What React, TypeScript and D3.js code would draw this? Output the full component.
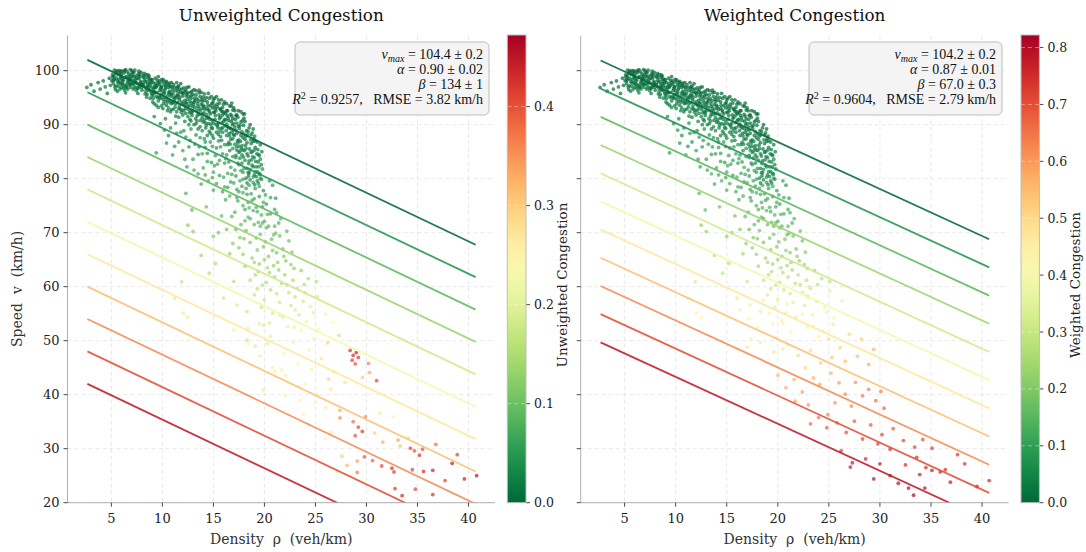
import React from "react";
import * as d3 from "d3";

const W = 1086, H = 552;
const FONT = "'DejaVu Serif', serif";
const MATH = "'Liberation Serif', 'DejaVu Serif', serif";
const NB = "\u00a0";

const xTicks = [5, 10, 15, 20, 25, 30, 35, 40];
const yTicks = [20, 30, 40, 50, 60, 70, 80, 90, 100];
const cbTicksU = [0, 0.1, 0.2, 0.3, 0.4];
const cbTicksW = [0, 0.1, 0.2, 0.3, 0.4, 0.5, 0.6, 0.7, 0.8];
const rhoDomain = [0.7, 42.6];
const speedDomain = [20, 106.5];
const lineRhoRange = [2.65, 40.7];
const fitU = { vmax: 104.4, alpha: 0.9, beta: 134 };
const fitW = { vmax: 104.2, alpha: 0.87, beta: 67 };
const levelsU = [0, 0.0448, 0.0896, 0.1343, 0.1791, 0.2239, 0.2687, 0.3134, 0.3582, 0.403, 0.4478];
const levelsW = [0, 0.0779, 0.1558, 0.2337, 0.3116, 0.3895, 0.4674, 0.5453, 0.6232, 0.7011, 0.779];
const cmaxU = 0.4717;
const cmaxW = 0.821;
const statsU = { vmax: "104.4 ± 0.2", alpha: "0.90 ± 0.02", beta: "134 ± 1", r2: "0.9257", rmse: "3.82" };
const statsW = { vmax: "104.2 ± 0.2", alpha: "0.87 ± 0.01", beta: "67.0 ± 0.3", r2: "0.9604", rmse: "2.79" };

// [density, speed, unweighted congestion, weighted congestion]
const corePoints = [
[2.6,96.9,.01,.01],[3.0,97.4,.0,.01],[3.3,96.2,.01,.02],[3.7,97.8,.0,.01],[3.9,96.6,.01,.02],[4.2,98.1,.0,.0],[4.4,97.0,.01,.01],[4.6,95.8,.01,.02],[4.8,98.6,.0,.0],[4.9,97.3,.01,.01],
[5.1,99.2,.0,.0],[5.2,97.6,.01,.01],[5.3,98.4,.0,.01],[5.4,96.5,.01,.02],[5.5,99.8,.0,.0],[5.6,98.0,.0,.01],[5.7,97.1,.01,.01],[5.8,99.5,.0,.0],[5.9,98.7,.0,.01],[6.0,96.9,.01,.02],[5.3,100.1,.0,.0],[5.6,96.2,.01,.02],[5.9,97.8,.01,.01],
[6.1,99.9,.0,.0],[6.2,98.3,.0,.01],[6.3,97.2,.01,.01],[6.4,100.2,.0,.0],[6.5,98.9,.0,.0],[6.6,96.6,.01,.02],[6.7,99.4,.0,.0],[6.8,97.7,.01,.01],[6.9,98.6,.0,.01],[7.0,100.0,.0,.0],[6.2,96.8,.01,.02],[6.5,97.5,.01,.01],[6.8,99.0,.0,.0],[6.4,95.9,.01,.02],[6.9,96.9,.01,.02],
[7.1,98.2,.0,.01],[7.2,99.6,.0,.0],[7.3,96.9,.01,.02],[7.4,97.9,.0,.01],[7.5,99.1,.0,.0],[7.6,95.8,.01,.02],[7.7,98.5,.0,.01],[7.8,97.3,.01,.01],[7.9,99.7,.0,.0],[8.0,96.4,.01,.02],[7.2,97.4,.01,.01],[7.5,98.6,.0,.01],[7.8,99.2,.0,.0],[7.3,100.1,.0,.0],[7.6,96.7,.01,.02],[7.9,98.0,.0,.01],
[8.1,98.8,.0,.0],[8.2,97.1,.01,.01],[8.3,95.7,.01,.02],[8.4,99.3,.0,.0],[8.5,98.0,.0,.01],[8.6,96.5,.01,.02],[8.7,97.6,.01,.01],[8.8,94.9,.01,.03],[8.9,98.4,.0,.0],[9.0,96.9,.01,.01],[8.2,99.5,.0,.0],[8.4,96.2,.01,.02],[8.6,98.7,.0,.0],[8.8,97.2,.01,.01],[9.0,95.4,.01,.02],[8.3,97.9,.0,.01],[8.7,99.0,.0,.0],
[9.1,97.8,.0,.01],[9.2,96.1,.01,.02],[9.3,98.6,.0,.0],[9.4,95.2,.01,.02],[9.5,97.3,.0,.01],[9.6,94.4,.01,.03],[9.7,98.1,.0,.0],[9.8,96.7,.01,.01],[9.9,95.6,.01,.02],[10.0,97.9,.0,.0],[9.2,93.9,.02,.03],[9.4,97.0,.0,.01],[9.6,98.9,.0,.0],[9.8,94.9,.01,.02],[10.0,96.3,.01,.01],[9.3,95.9,.01,.02],[9.7,97.5,.0,.01],[9.9,93.5,.02,.03],
[10.1,98.3,.0,.0],[10.2,95.1,.01,.02],[10.3,96.8,.0,.01],[10.4,93.6,.01,.03],[10.5,97.6,.0,.0],[10.6,95.9,.01,.01],[10.7,94.5,.01,.02],[10.8,97.1,.0,.0],[10.9,92.8,.02,.03],[11.0,96.4,.0,.01],[10.2,97.4,.0,.0],[10.4,98.0,.0,.0],[10.6,93.1,.02,.03],[10.8,95.3,.01,.02],[11.0,94.0,.01,.02],[10.3,94.3,.01,.02],[10.7,96.2,.0,.01],[10.5,92.6,.02,.04],[10.9,97.8,.0,.0],
[11.1,97.4,.0,.0],[11.2,94.8,.01,.02],[11.3,96.3,.0,.01],[11.4,92.4,.02,.03],[11.5,95.6,.0,.01],[11.6,97.2,.0,.0],[11.7,93.5,.01,.03],[11.8,96.0,.0,.01],[11.9,94.2,.01,.02],[12.0,91.8,.02,.03],[11.2,96.9,.0,.0],[11.4,95.0,.01,.01],[11.6,93.0,.01,.03],[11.8,97.6,.0,.0],[12.0,95.3,.0,.01],[11.3,91.6,.02,.04],[11.5,94.1,.01,.02],[11.7,96.6,.0,.0],[11.9,92.7,.02,.03],
[12.1,96.8,.0,.0],[12.2,94.5,.01,.01],[12.3,92.1,.01,.03],[12.4,95.7,.0,.01],[12.5,93.4,.01,.02],[12.6,97.0,.0,.0],[12.7,91.0,.02,.03],[12.8,94.9,.0,.01],[12.9,96.2,.0,.0],[13.0,92.6,.01,.02],[12.2,90.6,.02,.04],[12.4,93.9,.01,.02],[12.6,95.2,.0,.01],[12.8,92.4,.01,.03],[13.0,95.6,.0,.0],[12.3,96.4,.0,.0],[12.7,93.6,.01,.02],[12.5,91.5,.02,.03],[12.9,94.0,.01,.01],
[13.1,96.5,.0,.0],[13.2,93.2,.01,.02],[13.3,90.2,.02,.03],[13.4,94.8,.0,.01],[13.5,92.0,.01,.02],[13.6,95.9,.0,.0],[13.7,89.6,.02,.04],[13.8,93.7,.0,.01],[13.9,91.3,.01,.02],[14.0,95.1,.0,.0],[13.2,94.4,.0,.01],[13.4,91.6,.01,.03],[13.6,93.0,.01,.02],[13.8,96.0,.0,.0],[14.0,90.5,.02,.03],[13.3,95.5,.0,.0],[13.7,92.6,.01,.02],[13.5,89.2,.02,.04],[13.9,94.3,.0,.01],
[14.1,95.7,.0,.0],[14.2,92.8,.01,.01],[14.3,89.9,.02,.03],[14.4,94.2,.0,.0],[14.5,91.4,.01,.02],[14.6,88.8,.02,.04],[14.7,93.5,.0,.01],[14.8,95.2,.0,.0],[14.9,90.7,.01,.02],[15.0,92.3,.01,.01],[14.2,90.4,.02,.03],[14.4,93.0,.01,.01],[14.6,94.9,.0,.0],[14.8,89.5,.02,.03],[15.0,94.6,.0,.0],[14.3,91.9,.01,.02],[14.7,88.4,.02,.04],[14.5,95.8,.0,.0],[14.9,93.1,.0,.01],
[15.1,94.9,.0,.0],[15.2,91.7,.01,.02],[15.3,88.6,.02,.03],[15.4,93.3,.0,.01],[15.5,90.3,.01,.02],[15.6,94.0,.0,.0],[15.7,87.8,.02,.04],[15.8,92.5,.0,.01],[15.9,89.4,.01,.03],[16.0,93.8,.0,.0],[15.2,93.0,.0,.01],[15.4,89.8,.01,.03],[15.6,91.1,.01,.02],[15.8,94.6,.0,.0],[16.0,90.6,.01,.02],[15.3,95.2,.0,.0],[15.7,92.9,.0,.01],[15.5,88.2,.02,.04],[15.9,91.8,.01,.01],
[16.1,94.2,.0,.0],[16.2,90.9,.01,.02],[16.3,88.0,.02,.03],[16.4,92.6,.0,.01],[16.5,86.7,.02,.04],[16.6,93.5,.0,.0],[16.7,89.3,.01,.02],[16.8,91.6,.0,.01],[16.9,87.4,.02,.03],[17.0,93.1,.0,.0],[16.2,92.2,.0,.01],[16.4,89.6,.01,.02],[16.6,87.9,.02,.03],[16.8,94.0,.0,.0],[17.0,90.2,.01,.02],[16.3,93.9,.0,.0],[16.7,91.9,.0,.01],[16.5,90.8,.01,.02],[16.9,92.7,.0,.0],
[17.1,92.6,.0,.0],[17.2,89.0,.01,.02],[17.3,85.3,.02,.04],[17.4,91.4,.0,.01],[17.5,87.2,.02,.03],[17.6,83.8,.02,.04],[17.7,90.5,.0,.01],[17.8,86.1,.02,.03],[17.9,92.0,.0,.0],[18.0,88.3,.01,.02],[17.2,91.7,.0,.01],[17.4,86.6,.02,.03],[17.6,89.9,.01,.02],[17.8,84.4,.02,.04],[18.0,91.2,.0,.01],[17.3,88.4,.01,.02],[17.7,92.4,.0,.0],[17.5,84.9,.02,.04],[17.9,87.6,.01,.02],
[18.1,90.6,.0,.01],[18.2,85.6,.02,.03],[18.3,81.9,.02,.04],[18.4,88.7,.01,.02],[18.5,83.3,.02,.04],[18.6,79.8,.03,.05],[18.7,86.5,.01,.03],[18.8,82.5,.02,.04],[18.9,89.2,.01,.01],[19.0,80.7,.02,.05],[18.2,87.9,.01,.02],[18.4,84.2,.02,.04],[18.6,90.0,.0,.01],[18.8,85.0,.02,.03],[19.0,83.9,.02,.04],[18.3,79.2,.03,.05],[18.7,88.1,.01,.02],[18.5,81.1,.02,.04],[18.9,86.9,.01,.02],
[19.1,85.8,.01,.03],[19.2,82.2,.02,.04],[19.3,79.6,.03,.05],[19.4,84.5,.02,.03],[19.5,81.0,.02,.04],[19.6,86.3,.01,.02],[19.2,80.4,.02,.05],[19.4,83.1,.02,.04],[19.7,79.9,.03,.05]
];

const coreExtra = [
[5.05,98.1,.0,.01],[5.25,99.0,.0,.0],[5.45,97.2,.01,.02],[5.65,99.3,.0,.0],[5.85,96.6,.01,.03],[6.05,98.5,.0,.01],[6.25,99.6,.0,.0],[6.45,97.0,.01,.02],[6.65,98.2,.0,.01],[6.85,100.2,.0,.0],[7.05,97.6,.01,.02],[7.25,98.9,.0,.0],[7.45,96.3,.02,.03],[7.65,99.4,.0,.0],[7.85,97.8,.01,.01],[5.5,98.6,.0,.01],[6.0,99.3,.0,.0],[6.6,97.9,.01,.01],[7.1,99.0,.0,.0],[7.7,97.0,.01,.02],[6.3,96.4,.02,.03],[5.8,100.0,.0,.0],
[8.05,97.5,.0,.01],[8.25,98.2,.0,.0],[8.45,95.1,.02,.03],[8.65,97.0,.01,.01],[8.85,98.0,.0,.0],[9.05,94.2,.02,.03],[9.25,97.2,.01,.01],[9.45,96.0,.01,.02],[9.65,97.8,.0,.0],[9.85,95.0,.02,.02],[10.05,93.0,.02,.04],[10.25,96.5,.01,.01],[10.45,94.8,.01,.02],[10.65,97.3,.0,.0],[10.85,93.9,.02,.03],[11.05,95.8,.01,.01],[11.25,93.3,.02,.03],[11.45,96.8,.0,.0],[11.65,94.6,.01,.02],[11.85,92.3,.02,.04],[8.5,96.9,.01,.01],[9.1,95.7,.01,.02],[9.6,93.2,.02,.04],[10.1,94.6,.01,.02],[10.6,96.9,.0,.0],[11.1,92.9,.02,.04],[11.6,95.4,.01,.01],[12.0,93.9,.01,.02],[9.9,97.1,.0,.0],[10.9,95.6,.01,.01],[11.4,97.8,.0,.0],[8.9,96.1,.01,.02],
[12.05,95.8,.0,.01],[12.25,93.0,.01,.02],[12.45,94.7,.01,.01],[12.65,92.2,.02,.03],[12.85,95.4,.0,.0],[13.05,93.7,.01,.02],[13.25,91.1,.02,.04],[13.45,93.9,.01,.01],[13.65,91.9,.02,.03],[13.85,94.7,.0,.0],[14.05,92.2,.01,.02],[14.25,89.4,.02,.04],[14.45,93.6,.01,.01],[14.65,91.0,.02,.03],[14.85,93.9,.0,.0],[15.05,90.2,.02,.03],[15.25,92.6,.01,.01],[15.45,89.4,.02,.04],[15.65,92.9,.0,.01],[15.85,90.4,.02,.03],[12.4,96.9,.0,.0],[13.1,90.0,.02,.04],[13.6,96.4,.0,.0],[14.1,90.9,.02,.03],[14.6,92.4,.01,.02],[15.1,93.5,.0,.01],[15.6,88.8,.03,.05],[15.9,93.2,.0,.0],[12.9,91.7,.02,.03],[13.9,88.9,.03,.05],[14.9,88.0,.03,.05],[12.6,90.0,.02,.04],
[16.05,92.1,.01,.01],[16.25,88.9,.02,.03],[16.45,91.3,.01,.02],[16.65,86.4,.03,.05],[16.85,90.0,.01,.02],[17.05,88.0,.02,.03],[17.25,85.9,.03,.04],[17.45,89.7,.01,.02],[17.65,86.9,.02,.04],[17.85,90.8,.01,.01],[18.05,85.2,.03,.05],[18.25,88.9,.01,.02],[18.45,82.8,.03,.05],[18.65,87.2,.02,.03],[18.85,84.1,.03,.04],[19.05,87.9,.02,.02],[19.25,84.6,.03,.04],[19.45,82.2,.03,.05],[16.3,90.1,.01,.02],[16.8,88.6,.02,.03],[17.3,90.3,.01,.01],[17.8,88.7,.02,.02],[18.3,86.7,.02,.03],[18.8,88.5,.02,.02],[19.3,86.8,.02,.03],[17.1,86.4,.03,.04],[17.6,85.1,.03,.05],[18.1,83.4,.03,.05],[18.6,81.7,.04,.06],[19.1,81.3,.04,.06],[19.6,83.6,.03,.05],[16.6,85.2,.03,.05],[17.4,82.9,.04,.06],[18.9,80.3,.04,.07],[19.8,81.8,.04,.06],
[9.2,91.5,.03,.06],[9.8,90.2,.04,.07],[10.3,91.1,.03,.06],[10.8,89.4,.04,.08],[11.3,90.3,.04,.07],[11.8,88.6,.05,.09],[12.3,87.7,.05,.09],[12.8,89.2,.04,.07],[13.2,86.4,.05,.1],[13.7,87.6,.05,.09],[14.2,85.8,.05,.1],[14.7,86.8,.05,.09],[15.2,84.3,.06,.11],[15.7,85.9,.05,.09],[16.2,83.7,.06,.11],[16.7,82.1,.06,.12],[17.2,83.9,.05,.09],[17.7,81.5,.06,.11],[11.0,84.4,.06,.11],[12.0,85.2,.06,.1],[13.0,83.6,.06,.11],[14.0,82.0,.07,.13],[15.0,81.2,.07,.13],[16.0,80.3,.07,.13],[13.5,80.9,.07,.14],[14.5,79.6,.08,.14],[10.6,88.0,.04,.08],[11.6,86.8,.05,.09],[12.6,85.9,.05,.1],[13.9,84.6,.06,.1],[15.4,82.7,.06,.11],[16.4,81.0,.07,.12],[17.0,79.2,.07,.13],[17.9,77.4,.07,.13],[18.4,75.6,.08,.14],[18.9,74.1,.08,.15],[19.4,71.9,.09,.16],[19.7,73.3,.08,.15],[20.4,71.2,.09,.16],[20.9,69.6,.1,.18]
];

const coreFill = [
[5.15,98.8,.0,.0],[5.35,97.0,.01,.01],[5.55,100.0,.0,.0],[5.75,98.3,.0,.01],[5.95,99.0,.0,.0],[6.15,97.5,.01,.01],[6.35,98.8,.0,.0],[6.55,99.8,.0,.0],[6.75,97.3,.01,.01],[6.95,99.3,.0,.0],[7.15,96.6,.01,.02],[7.35,98.4,.0,.0],[7.55,97.6,.0,.01],[7.75,98.9,.0,.0],[7.95,96.9,.01,.01],[8.15,99.1,.0,.0],[8.35,96.8,.01,.01],[8.55,97.4,.0,.01],[8.75,98.4,.0,.0],[8.95,95.8,.01,.02],
[9.15,96.6,.0,.01],[9.35,97.6,.0,.0],[9.55,95.0,.01,.02],[9.75,96.3,.0,.01],[9.95,98.4,.0,.0],[10.15,95.7,.01,.01],[10.35,97.2,.0,.0],[10.55,94.2,.01,.02],[10.75,95.8,.0,.01],[10.95,96.9,.0,.0],[11.15,94.3,.01,.02],[11.35,95.3,.0,.01],[11.55,96.2,.0,.0],[11.75,92.9,.01,.02],[11.95,95.9,.0,.0],[12.15,93.6,.01,.01],[12.35,95.3,.0,.0],[12.55,92.8,.01,.02],[12.75,96.0,.0,.0],[12.95,93.3,.01,.01],
[13.15,94.9,.0,.0],[13.35,92.6,.01,.01],[13.55,94.4,.0,.0],[13.75,90.8,.01,.02],[13.95,93.0,.0,.01],[14.15,94.5,.0,.0],[14.35,91.2,.01,.02],[14.55,92.7,.0,.01],[14.75,90.1,.01,.02],[14.95,94.1,.0,.0],[15.15,91.0,.01,.02],[15.35,93.8,.0,.0],[15.55,91.8,.0,.01],[15.75,89.3,.01,.02],[15.95,92.4,.0,.01],[16.15,89.8,.01,.02],[16.35,91.7,.0,.01],[16.55,88.4,.01,.02],[16.75,90.6,.0,.01],[16.95,89.0,.01,.02],
[17.15,91.0,.0,.01],[17.35,87.0,.01,.02],[17.55,89.3,.01,.01],[17.75,85.6,.01,.02],[17.95,89.9,.0,.01],[18.15,86.2,.01,.02],[18.35,88.1,.01,.01],[18.55,85.5,.01,.02],[18.75,83.5,.02,.03],[18.95,87.4,.01,.01],[19.15,83.2,.02,.03],[19.35,85.4,.01,.02],[19.55,80.8,.02,.04],[17.45,92.6,.0,.0],[18.05,92.0,.0,.0],[16.75,93.4,.0,.0],[17.95,84.0,.02,.03],[18.45,80.5,.02,.04],[19.05,78.9,.03,.05],[19.75,85.0,.02,.03],
[12.1,88.9,.04,.07],[12.7,87.1,.05,.09],[13.3,88.1,.04,.08],[13.6,85.9,.05,.1],[14.1,87.4,.04,.08],[14.4,84.7,.05,.1],[14.9,86.0,.05,.09],[15.1,82.4,.06,.12],[15.5,87.0,.04,.07],[15.9,84.6,.05,.1],[16.1,86.3,.04,.08],[16.5,83.1,.05,.1],[16.9,85.6,.04,.08],[17.1,81.6,.06,.11],[17.5,82.6,.05,.1],[17.9,79.9,.06,.12],[18.2,78.2,.06,.12],[18.7,77.2,.06,.12],[19.0,76.3,.07,.13],[19.5,78.6,.06,.11],
[20.1,77.0,.06,.12],[20.5,79.6,.05,.1],[19.9,75.6,.07,.13],[18.5,74.6,.08,.14],[17.3,78.0,.07,.12],[16.1,78.5,.07,.13],[15.3,79.1,.07,.13],[14.2,80.7,.07,.13],[13.1,81.6,.07,.12],[12.2,83.6,.06,.11],[11.4,88.4,.04,.08],[10.2,89.0,.04,.08],[16.6,76.8,.08,.14],[17.9,75.0,.08,.14],[19.2,74.7,.08,.14],[20.3,73.4,.08,.14],[21.0,74.3,.07,.13],[20.6,76.5,.06,.12],[18.1,72.2,.09,.16],[19.6,71.2,.09,.17]
];

const coreFill2 = [
[5.2,98.2,.0,.0],[5.4,99.5,.0,.0],[5.7,97.7,.0,.01],[5.9,99.9,.0,.0],[6.1,98.0,.0,.01],[6.3,100.0,.0,.0],[6.5,96.9,.01,.01],[6.7,98.6,.0,.0],[6.9,97.5,.0,.01],[7.1,99.7,.0,.0],[7.3,97.9,.0,.01],[7.5,96.8,.01,.01],[7.7,99.9,.0,.0],[7.9,97.4,.0,.01],[6.0,97.5,.0,.01],[6.8,98.3,.0,.0],
[8.1,97.4,.0,.01],[8.3,98.7,.0,.0],[8.5,95.6,.01,.02],[8.7,96.4,.01,.01],[8.9,97.7,.0,.0],[9.1,94.9,.01,.02],[9.3,96.9,.0,.01],[9.5,98.2,.0,.0],[9.7,95.3,.01,.02],[9.9,96.9,.0,.01],[10.1,93.9,.01,.02],[10.3,97.9,.0,.0],[10.5,95.4,.01,.01],[10.7,97.7,.0,.0],[10.9,94.2,.01,.02],[8.6,99.2,.0,.0],[9.4,93.6,.02,.03],[10.2,96.0,.0,.01],[10.8,92.4,.02,.03],[9.0,98.3,.0,.0],
[11.1,95.1,.0,.01],[11.3,93.9,.01,.02],[11.5,97.0,.0,.0],[11.7,95.0,.0,.01],[11.9,96.6,.0,.0],[12.1,92.6,.01,.02],[12.3,94.1,.0,.01],[12.5,95.9,.0,.0],[12.7,94.3,.0,.01],[12.9,92.2,.01,.02],[13.1,94.2,.0,.01],[13.3,96.3,.0,.0],[13.5,93.4,.01,.01],[13.7,95.2,.0,.0],[13.9,92.0,.01,.02],[11.6,91.4,.02,.03],[12.2,96.1,.0,.0],[12.8,90.7,.02,.03],[13.4,90.7,.02,.03],[14.0,93.6,.0,.01],
[14.1,93.3,.0,.01],[14.3,95.0,.0,.0],[14.5,90.2,.01,.02],[14.7,92.0,.01,.01],[14.9,89.3,.01,.03],[15.1,92.3,.0,.01],[15.3,90.0,.01,.02],[15.5,94.6,.0,.0],[15.7,91.4,.01,.01],[15.9,88.6,.02,.03],[16.1,91.0,.01,.01],[16.3,92.6,.0,.0],[16.5,89.4,.01,.02],[16.7,87.3,.02,.03],[16.9,91.1,.0,.01],[14.4,88.0,.02,.04],[15.0,87.5,.02,.04],[15.8,87.1,.02,.04],[16.4,86.3,.02,.04],[17.0,88.2,.01,.02],
[17.1,89.6,.01,.01],[17.3,91.8,.0,.0],[17.5,86.0,.02,.03],[17.7,88.0,.01,.02],[17.9,85.3,.02,.03],[18.1,87.3,.01,.02],[18.3,84.6,.02,.03],[18.5,89.4,.0,.01],[18.7,84.9,.02,.03],[18.9,82.2,.02,.04],[19.1,87.0,.01,.02],[19.3,81.3,.03,.04],[19.5,84.3,.02,.03],[19.7,82.6,.02,.04],[17.2,84.3,.02,.04],[17.8,82.9,.03,.04],[18.4,81.1,.03,.05],[19.0,85.3,.02,.03],[19.4,79.2,.03,.05],[18.2,80.1,.03,.05]
];

const midPoints = [
[9.4,84.8,.05,.09],[10.4,86.6,.05,.08],[11.2,86.0,.05,.09],[12.4,82.2,.06,.11],[12.3,77.3,.08,.15],[12.9,74.2,.09,.17],[13.5,84.5,.05,.1],[14.2,86.8,.04,.08],[14.8,83.0,.05,.1],[15.3,85.7,.04,.07],[15.6,80.6,.06,.11],[16.1,82.9,.05,.09],[16.4,78.4,.06,.12],[16.9,84.1,.04,.08],[17.2,80.5,.05,.1],[17.5,77.6,.06,.12],[17.9,81.2,.05,.09],
[16.2,76.1,.07,.13],[16.7,79.4,.06,.11],[17.1,73.8,.08,.15],[17.4,75.9,.07,.13],[17.8,78.6,.06,.11],[18.1,74.3,.07,.14],[18.3,77.1,.06,.12],[18.6,72.6,.08,.15],[18.8,76.0,.07,.12],[19.1,78.2,.05,.1],[19.3,73.9,.07,.13],[19.5,76.7,.06,.11],[19.8,74.8,.06,.12],[20.0,72.1,.08,.14],[19.9,77.8,.05,.1],[18.9,79.3,.05,.1],[19.6,80.1,.05,.09],[20.2,75.3,.06,.11],[20.6,73.5,.07,.13],[21.1,76.4,.05,.1],[21.4,71.8,.08,.14],[20.8,78.8,.05,.09],[17.7,71.5,.09,.16],[16.8,73.0,.09,.16],
[18.2,70.4,.1,.18],[18.6,68.2,.11,.2],[19.0,71.5,.09,.17],[19.3,66.8,.12,.22],[19.6,69.7,.1,.19],[19.9,67.4,.11,.21],[20.2,70.9,.09,.17],[20.4,65.6,.12,.23],[20.7,68.8,.1,.19],[21.0,71.2,.09,.16],[21.2,66.3,.11,.21],[21.5,69.4,.1,.18],[21.8,67.0,.11,.2],[22.1,64.8,.12,.22],[20.9,63.9,.13,.25],[21.6,72.6,.08,.15],[17.6,69.1,.11,.2],[17.9,66.0,.13,.24],[22.4,68.5,.1,.18],[19.0,64.5,.14,.26],
[19.4,62.8,.14,.27],[19.8,60.3,.16,.3],[20.3,63.5,.14,.26],[20.6,59.4,.16,.31],[21.0,61.8,.15,.28],[21.3,64.5,.13,.24],[21.7,60.6,.15,.29],[22.0,62.2,.14,.27],[22.4,58.9,.17,.32],[22.8,61.2,.15,.28],[23.2,59.7,.16,.3],[23.6,63.0,.13,.25],[20.0,57.6,.18,.34],[21.5,57.1,.18,.35],[22.6,64.1,.13,.24],[23.9,60.4,.15,.28],[18.6,61.2,.16,.3],[19.0,58.5,.17,.33],
[11.9,60.9,.17,.33],[11.2,57.9,.19,.36],[12.05,55.1,.2,.39],[12.5,54.3,.21,.4],[12.5,71.4,.12,.22],[13.0,70.2,.12,.23],[15.0,69.3,.12,.22],[15.5,70.0,.11,.21],[13.8,65.8,.14,.27],[14.6,62.5,.16,.3],[16.0,57.9,.18,.34],[15.2,64.3,.15,.28],[16.6,66.1,.13,.25],[17.0,61.0,.16,.31],[17.3,56.6,.19,.37],[14.3,74.8,.1,.18],[15.8,73.1,.1,.19],[16.3,70.6,.11,.21]
];

const midFill = [
[14.4,83.2,.06,.11],[14.9,80.2,.07,.12],[15.6,83.4,.06,.1],[15.9,77.6,.07,.13],[16.3,84.4,.05,.09],[16.8,80.8,.06,.11],[17.3,76.5,.07,.13],[17.6,79.6,.06,.11],[18.0,81.9,.05,.09],[18.5,78.8,.06,.11],[13.8,79.0,.07,.13],[15.0,77.9,.07,.13],
[17.2,70.6,.1,.18],[17.5,67.2,.12,.22],[18.0,68.9,.11,.2],[18.4,72.9,.09,.16],[18.8,65.3,.13,.24],[19.2,69.0,.11,.19],[19.5,64.2,.13,.25],[19.8,71.8,.09,.16],[20.1,68.3,.11,.2],[20.5,62.6,.14,.27],[20.8,66.7,.12,.22],[21.1,69.9,.1,.18],[21.4,63.1,.13,.25],[21.9,65.6,.12,.23],[22.2,70.3,.09,.17],[22.7,66.4,.12,.21],[16.9,68.0,.12,.22],[18.1,63.8,.14,.26],[20.0,65.0,.13,.24],[21.2,73.7,.08,.14],[19.1,62.2,.15,.28],[22.9,63.4,.13,.25],
[19.3,59.6,.16,.31],[19.7,56.2,.18,.35],[20.2,60.8,.15,.29],[20.8,55.1,.19,.37],[21.2,58.7,.17,.32],[21.8,54.4,.19,.37],[22.2,60.4,.15,.29],[22.6,56.5,.18,.34],[23.0,58.1,.17,.32],[23.4,54.8,.19,.36],[23.8,57.3,.18,.34],[24.3,61.5,.15,.28],[24.8,55.2,.2,.37],[25.1,61.0,.16,.29],[20.5,53.3,.2,.39],[22.9,52.5,.21,.41],[18.3,55.4,.18,.36],[19.5,53.1,.2,.39]
];

// [density, speed, unweighted congestion]
const tailUnweighted = [
[17.0,52.0,.22],[18.4,52.3,.21],[18.4,49.5,.24],[18.3,50.1,.18],[19.1,49.0,.19],[20.3,49.5,.2],[21.0,44.2,.22],[21.7,44.6,.21],[19.9,40.9,.2],[22.0,39.8,.23],[23.4,41.5,.22],[24.6,44.7,.25],[25.0,38.6,.24],[26.3,42.9,.3],[23.8,36.4,.23],
[24.5,56.3,.2],[25.2,58.1,.19],[26.0,54.9,.22],[24.0,58.9,.18],[26.7,53.4,.24],
[21.5,54.8,.2],[22.3,52.6,.21],[23.0,55.7,.19],[23.6,51.9,.22],[24.1,53.5,.21],[24.8,50.4,.23],[22.8,49.7,.22],[21.9,47.6,.23],[20.6,50.8,.2],[19.9,52.9,.19],[25.3,52.1,.24],[24.4,48.3,.25],[23.3,45.8,.24],[20.8,45.0,.22],[19.6,47.2,.21],[22.1,43.6,.25],[25.6,46.7,.27],[26.2,49.6,.3],[26.8,44.3,.28],[27.3,51.0,.3],
[28.4,48.2,.42],[28.7,47.3,.43],[29.0,47.8,.44],[28.6,46.4,.41],[29.2,46.9,.42],[28.9,45.7,.4],
[30.2,45.8,.36],[30.3,44.1,.33],[31.0,42.6,.41],[29.6,43.2,.3],[27.9,42.3,.28],[26.5,41.0,.27],[25.2,40.1,.25],[24.0,42.0,.22],[23.5,39.0,.23],[26.0,37.6,.26],[27.4,37.1,.33],[27.4,35.7,.35],[28.7,35.0,.38],[29.2,34.0,.41],[29.6,33.2,.42],[28.9,32.4,.4],[29.9,35.9,.36],[31.3,36.6,.27],[32.6,35.9,.25],[30.8,32.9,.3],[31.6,31.2,.33],[33.3,30.5,.31],[34.1,32.0,.29],[33.1,31.6,.34],
[27.6,28.6,.3],[28.1,26.9,.32],[27.1,25.8,.28],[29.1,27.7,.34],[29.1,25.6,.37],[29.8,28.5,.4],[30.6,27.8,.39],[31.5,26.8,.41],[32.5,26.4,.43],[32.7,25.7,.42],[34.3,30.1,.41],[34.7,29.6,.4],[35.2,28.8,.42],[35.5,29.9,.4],[34.5,26.1,.41],[35.6,25.8,.43],[36.5,26.0,.44],[32.8,22.6,.42],[33.5,21.3,.44],[34.8,22.5,.41],[36.5,21.5,.43],[38.4,27.3,.45],[37.7,24.1,.41],[39.6,24.4,.44],[40.8,25.0,.45],[36.8,30.8,.38],[38.9,28.9,.41],[25.9,31.9,.24],[24.4,34.4,.22],[26.5,33.0,.27]
];

// [density, speed, weighted congestion]
const tailWeighted = [
[16.3,55.7,.38],[17.2,54.0,.4],[18.0,52.4,.41],[19.2,55.1,.39],[20.4,53.8,.41],[21.3,51.7,.43],[22.4,54.9,.4],[23.5,52.6,.42],[24.0,50.8,.44],[19.8,50.6,.43],[21.0,49.2,.45],[17.4,50.3,.44],[18.6,57.5,.36],[20.9,56.8,.37],[22.8,58.3,.35],[24.6,56.1,.38],[25.5,54.2,.4],[26.3,57.4,.37],[23.1,60.0,.34],[25.1,59.2,.35],
[17.0,48.8,.47],[18.3,49.6,.46],[19.6,47.9,.48],[20.5,48.5,.47],[22.0,47.3,.5],[23.2,48.2,.49],[24.4,51.7,.47],[25.0,50.3,.49],[25.4,53.0,.46],[26.1,48.7,.52],[27.0,51.2,.5],[28.2,50.3,.53],[26.6,46.2,.55],[27.8,47.1,.55],[28.9,45.6,.58],[29.4,48.4,.56],[24.2,45.9,.52],[25.3,46.9,.53],[22.7,45.0,.51],
[20.0,43.6,.55],[20.8,41.3,.57],[21.6,42.8,.56],[22.4,40.5,.59],[23.5,43.1,.57],[24.1,41.9,.58],[25.2,44.0,.57],[26.0,42.2,.6],[26.6,40.1,.62],[27.6,42.3,.61],[28.3,39.8,.64],[28.9,41.0,.63],[29.6,38.9,.66],[30.1,40.6,.64],[30.4,37.5,.67],[27.2,37.9,.63],[25.6,38.5,.61],[23.0,38.1,.6],[24.9,36.3,.63],[21.7,38.8,.58],
[23.2,34.6,.66],[24.0,35.8,.65],[24.8,33.9,.68],[25.8,34.8,.67],[26.7,33.0,.7],[27.5,35.1,.68],[28.3,31.8,.71],[29.1,34.4,.69],[30.2,32.6,.71],[31.3,33.7,.69],[29.8,30.9,.72],[31.0,29.9,.73],[32.3,31.5,.71],[33.4,30.3,.72],[34.2,31.7,.7],[35.1,30.1,.72],[33.6,28.4,.74],[32.5,27.0,.75],[34.5,26.5,.75],
[27.1,26.6,.78],[27.3,27.4,.77],[26.2,29.6,.74],[28.6,28.1,.76],[30.0,27.2,.77],[31.0,25.0,.79],[32.8,22.7,.8],[33.3,21.4,.81],[34.4,22.7,.79],[35.9,25.7,.76],[36.4,26.1,.75],[38.3,27.2,.74],[39.5,23.0,.78],[40.7,24.1,.76],[35.1,26.0,.77],[33.9,25.2,.78],[36.9,23.8,.78],[37.6,28.9,.73],[29.4,24.4,.8],[31.8,23.6,.8]
];

const Y_TOP = 35.6, Y_BOT = 502.7;

const shared = [...corePoints, ...coreExtra, ...coreFill, ...coreFill2, ...midPoints, ...midFill];

const panels = [
  {
    id: "u", title: "Unweighted Congestion", cbLabel: "Unweighted Congestion",
    x0: 67.5, x1: 495, cbx0: 507.3, cbx1: 526, cmax: cmaxU, cbTicks: cbTicksU,
    fit: fitU, levels: levelsU, stats: statsU, showYLabels: true, box: [295, 489],
    points: [...shared.map(p => [p[0], p[1], p[2]]), ...tailUnweighted],
  },
  {
    id: "w", title: "Weighted Congestion", cbLabel: "Weighted Congestion",
    x0: 580.7, x1: 1008.6, cbx0: 1021, cbx1: 1039.4, cmax: cmaxW, cbTicks: cbTicksW,
    fit: fitW, levels: levelsW, stats: statsW, showYLabels: false, box: [809, 1002],
    points: [...shared.map(p => [p[0], p[1], p[3]]), ...tailWeighted],
  },
];

function Panel({ p }: any) {
  const x = d3.scaleLinear().domain(rhoDomain).range([p.x0, p.x1]);
  const y = d3.scaleLinear().domain(speedDomain).range([Y_BOT, Y_TOP]);
  const cb = d3.scaleLinear().domain([0, p.cmax]).range([Y_BOT, Y_TOP]);
  const col = (c: number) => d3.interpolateRdYlGn(1 - Math.max(0, Math.min(1, c / p.cmax)));
  const line = d3.line<number[]>().x(d => x(d[0])).y(d => y(d[1]));
  const clipId = "clip-" + p.id;
  const gradId = "grad-" + p.id;
  const stops = d3.range(0, 1.0001, 0.05);
  const cx = (p.x0 + p.x1) / 2;
  const grid = "#e2e2e2";
  const axisCol = "#b0b0b0";
  const txt = "#222";
  const bx0 = p.box[0], bx1 = p.box[1];
  const tx = bx1 - 6;
  const fs = 14;
  return (
    <g>
      <defs>
        <clipPath id={clipId}>
          <rect x={p.x0} y={Y_TOP} width={p.x1 - p.x0} height={Y_BOT - Y_TOP} />
        </clipPath>
        <linearGradient id={gradId} x1="0" y1="1" x2="0" y2="0">
          {stops.map(s => <stop key={s} offset={s} stopColor={col(s * p.cmax)} />)}
        </linearGradient>
      </defs>
      {xTicks.map(t => <line key={"gx" + t} x1={x(t)} x2={x(t)} y1={Y_TOP} y2={Y_BOT} stroke={grid} strokeWidth={0.8} strokeDasharray="4,3" />)}
      {yTicks.map(t => <line key={"gy" + t} x1={p.x0} x2={p.x1} y1={y(t)} y2={y(t)} stroke={grid} strokeWidth={0.8} strokeDasharray="4,3" />)}
      <g clipPath={`url(#${clipId})`}>
        {p.points.map((d: number[], i: number) => (
          <circle key={i} cx={x(d[0])} cy={y(d[1])} r={1.9} fill={col(d[2])} fillOpacity={0.7} />
        ))}
        {p.levels.map((c: number, i: number) => {
          const pts = lineRhoRange.map(r => [r, p.fit.vmax - p.fit.alpha * r - p.fit.beta * c]);
          return <path key={"l" + i} d={line(pts) as string} stroke={col(c)} strokeWidth={1.8} fill="none" strokeOpacity={0.88} />;
        })}
      </g>
      <line x1={p.x0} x2={p.x0} y1={Y_TOP} y2={Y_BOT} stroke={axisCol} strokeWidth={1} />
      <line x1={p.x0} x2={p.x1} y1={Y_BOT} y2={Y_BOT} stroke={axisCol} strokeWidth={1} />
      {xTicks.map(t => (
        <g key={"xt" + t}>
          <line x1={x(t)} x2={x(t)} y1={Y_BOT} y2={Y_BOT + 4} stroke="#333" strokeWidth={0.9} />
          <text x={x(t)} y={Y_BOT + 20} textAnchor="middle" fontSize={13} fill={txt} fontFamily={FONT}>{t}</text>
        </g>
      ))}
      {yTicks.map(t => (
        <g key={"yt" + t}>
          <line x1={p.x0 - 4} x2={p.x0} y1={y(t)} y2={y(t)} stroke="#333" strokeWidth={0.9} />
          {p.showYLabels && <text x={p.x0 - 8} y={y(t) + 4.5} textAnchor="end" fontSize={13} fill={txt} fontFamily={FONT}>{t}</text>}
        </g>
      ))}
      <text x={cx} y={544} textAnchor="middle" fontSize={14} fill="#333" fontFamily={FONT}>{`Density${NB}${NB}ρ${NB}${NB}(veh/km)`}</text>
      {p.showYLabels && (
        <text transform={`translate(22,289) rotate(-90)`} textAnchor="middle" fontSize={14} fill="#333" fontFamily={FONT}>{`Speed${NB}${NB}v${NB}${NB}(km/h)`}</text>
      )}
      <text x={cx} y={21} textAnchor="middle" fontSize={16.8} fill="#111" fontFamily={FONT}>{p.title}</text>
      <rect x={bx0} y={42} width={bx1 - bx0} height={73} rx={5} fill="#f3f3f3" fillOpacity={0.9} stroke="#bdbdbd" strokeWidth={1} />
      <g fontFamily={MATH} fontSize={fs} fill="#111" textAnchor="end">
        <text x={tx} y={59}>
          <tspan fontStyle="italic">v</tspan><tspan fontStyle="italic" fontSize={10} dy={3}>max</tspan><tspan dy={-3}>{` = ${p.stats.vmax}`}</tspan>
        </text>
        <text x={tx} y={74}><tspan fontStyle="italic">α</tspan>{` = ${p.stats.alpha}`}</text>
        <text x={tx} y={89}><tspan fontStyle="italic">β</tspan>{` = ${p.stats.beta}`}</text>
        <text x={tx} y={104}>
          <tspan fontStyle="italic">R</tspan><tspan fontSize={10} dy={-5}>2</tspan><tspan dy={5}>{` = ${p.stats.r2},${NB}${NB}${NB}RMSE = ${p.stats.rmse} km/h`}</tspan>
        </text>
      </g>
      <rect x={p.cbx0} y={Y_TOP - 0.6} width={p.cbx1 - p.cbx0} height={Y_BOT - Y_TOP + 0.6} fill={`url(#${gradId})`} />
      {p.cbTicks.map((t: number) => (
        <g key={"cb" + t}>
          {t > 0 && <line x1={p.cbx0} x2={p.cbx1} y1={cb(t)} y2={cb(t)} stroke="#ffffff" strokeOpacity={0.5} strokeWidth={0.8} strokeDasharray="4,3" />}
          <line x1={p.cbx1} x2={p.cbx1 + 4} y1={cb(t)} y2={cb(t)} stroke="#333" strokeWidth={0.9} />
          <text x={p.cbx1 + 8} y={cb(t) + 4.5} fontSize={12.5} fill={txt} fontFamily={FONT}>{t.toFixed(1)}</text>
        </g>
      ))}
      <rect x={p.cbx0} y={Y_TOP - 0.6} width={p.cbx1 - p.cbx0} height={Y_BOT - Y_TOP + 0.6} fill="none" stroke="#bdbdbd" strokeWidth={1} />
      <text transform={`translate(${p.cbx1 + 41},285) rotate(-90)`} textAnchor="middle" fontSize={13.5} fill="#222" fontFamily={FONT}>{p.cbLabel}</text>
    </g>
  );
}

export default function App() {
  return (
    <svg width={W} height={H} style={{ position: "absolute", left: 0, top: 0, background: "#fff" }}>
      <rect width={W} height={H} fill="#fff" />
      {panels.map(p => <Panel key={p.id} p={p} />)}
    </svg>
  );
}
